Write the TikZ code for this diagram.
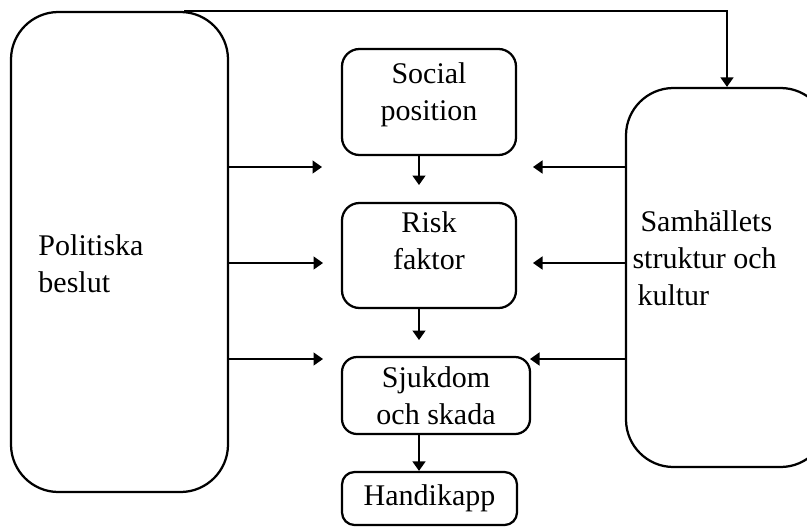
\documentclass[tikz,border=0pt]{standalone}
\usepackage{fontspec}
\setmainfont{Liberation Serif}
\usetikzlibrary{arrows.meta}

\begin{document}
\begin{tikzpicture}[x=0.4pt, y=-0.4pt, >={Triangle[length=3.8pt,width=5.2pt]},
  every node/.style={font=\fontsize{12}{14.8}\selectfont},
  bigbox/.style={draw, line width=0.9pt, rounded corners=19pt},
  smallbox/.style={draw, line width=0.9pt, rounded corners=7pt, align=center, inner sep=0pt},
  link/.style={->, line width=0.6pt}]
\useasboundingbox (0,0) rectangle (807,527);
% large side boxes
\node[bigbox, minimum width=86.8pt, minimum height=192pt] (pol) at (119.5,252) {};
\node[bigbox, minimum width=80.8pt, minimum height=151.6pt] (sam) at (727,277.5) {};
\node[anchor=west, align=left, inner sep=0pt] (poltext) at (38,264) {Politiska\\beslut};
\node[anchor=west, align=left, inner sep=0pt] (samtext) at (632,258)
  {\hspace*{3.2pt}Samhällets\\struktur och\\\hspace*{2pt}kultur};
% middle chain
\node[smallbox, minimum width=69.6pt, minimum height=42.4pt, text depth=8pt] (soc) at (429,102) {Social\\position};
\node[smallbox, minimum width=69.6pt, minimum height=42pt, text depth=12pt] (risk) at (429,255.5) {Risk\\faktor};
\node[smallbox, minimum width=75.2pt, minimum height=30.8pt, rounded corners=6pt] (sjuk) at (436,395.5) {Sjukdom\\och skada};
\node[smallbox, minimum width=70pt, minimum height=21.2pt, rounded corners=5pt] (hand) at (429.5,498.5) {Handikapp};
% arrow ends
\coordinate (l1) at (322,167);
\coordinate (l2) at (323,263);
\coordinate (l3) at (323,359);
\coordinate (r1) at (533,167);
\coordinate (r2) at (533,263);
\coordinate (r3) at (530,359);
\coordinate (v1) at (419,185);
\coordinate (v2) at (419,340);
% arrows
\draw[link] (pol.east |- l1) -- (l1);
\draw[link] (pol.east |- l2) -- (l2);
\draw[link] (pol.east |- l3) -- (l3);
\draw[link] (sam.west |- r1) -- (r1);
\draw[link] (sam.west |- r2) -- (r2);
\draw[link] (sam.west |- r3) -- (r3);
\draw[link] (soc.south -| v1) -- (v1);
\draw[link] (risk.south -| v1) -- (v2);
\draw[link] (sjuk.south -| v1) -- (hand.north -| v1);
\draw[link] ([xshift=-18pt]pol.north east) -| (sam.north);
\end{tikzpicture}
\end{document}
